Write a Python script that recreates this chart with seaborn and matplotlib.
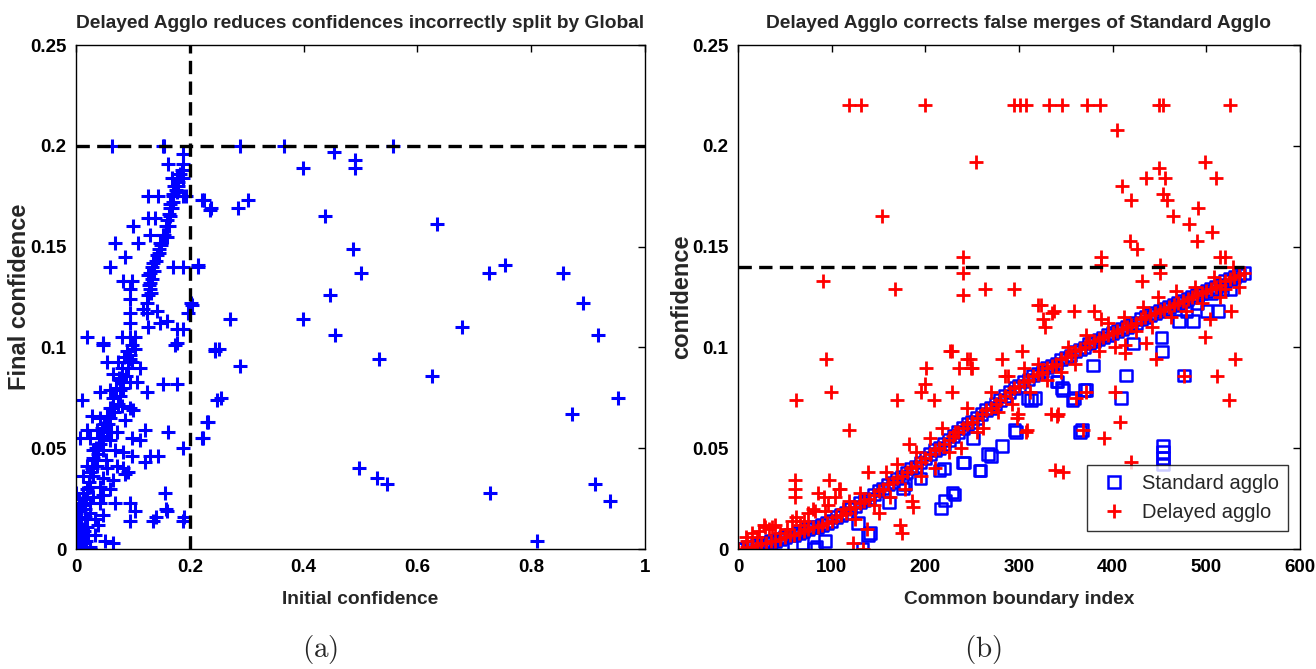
import numpy as np
import pandas as pd
import matplotlib
matplotlib.use("Agg")
import matplotlib.pyplot as plt
import seaborn as sns
from matplotlib.lines import Line2D

# ---------------- Panel (a) data ----------------
init_conf = [
    0.063, 0.153, 0.188, 0.162, 0.188, 0.169, 0.177, 0.188, 0.173, 0.179,
    0.170, 0.178, 0.127, 0.144, 0.171, 0.188, 0.193, 0.165, 0.221, 0.236,
    0.168, 0.165, 0.127, 0.139, 0.100, 0.163, 0.160, 0.153, 0.130, 0.068,
    0.109, 0.148, 0.145, 0.142, 0.086, 0.060, 0.136, 0.134, 0.130, 0.171,
    0.188, 0.214, 0.127, 0.130, 0.130, 0.083, 0.098, 0.095, 0.095, 0.125,
    0.118, 0.125, 0.142, 0.204, 0.197, 0.095, 0.095, 0.160, 0.148, 0.177,
    0.188, 0.127, 0.019, 0.047, 0.081, 0.095, 0.104, 0.177,
    0.133, 0.137, 0.140, 0.145, 0.150, 0.155, 0.158, 0.160, 0.163, 0.166,
    0.170, 0.175, 0.180, 0.183, 0.186, 0.128, 0.131, 0.126,
    0.047, 0.098, 0.104, 0.095, 0.174, 0.244, 0.054, 0.074, 0.095, 0.112,
    0.065, 0.081, 0.077, 0.095, 0.107, 0.153, 0.177, 0.060, 0.042, 0.077,
    0.125, 0.011, 0.248, 0.063, 0.081, 0.095, 0.100, 0.028, 0.042, 0.060,
    0.086, 0.230, 0.019, 0.037, 0.054, 0.072, 0.121, 0.162, 0.007, 0.025,
    0.042, 0.060, 0.098, 0.112, 0.221, 0.188, 0.030, 0.047, 0.068, 0.083,
    0.098, 0.130, 0.144, 0.121, 0.019, 0.037, 0.054, 0.072, 0.083, 0.091,
    0.086, 0.012, 0.030, 0.047, 0.065, 0.025, 0.042, 0.060, 0.000, 0.012,
    0.030, 0.047, 0.156, 0.007, 0.025, 0.042, 0.068, 0.095, 0.104, 0.160,
    0.007, 0.025, 0.000, 0.016, 0.033, 0.047, 0.095, 0.135, 0.188, 0.002,
    0.019, 0.039, 0.002, 0.016, 0.033, 0.051, 0.065, 0.000, 0.011, 0.025,
    0.000, 0.009, 0.025,
    0.010, 0.015, 0.020, 0.025, 0.030, 0.035, 0.040, 0.045, 0.050, 0.055,
    0.060, 0.065, 0.070, 0.075, 0.080, 0.085, 0.090, 0.005, 0.008, 0.012,
    0.018, 0.022, 0.028, 0.033, 0.038, 0.043, 0.048, 0.052, 0.057, 0.062,
    0.067, 0.073, 0.078, 0.083, 0.088, 0.092, 0.098, 0.003, 0.005, 0.010,
    0.014, 0.017, 0.020, 0.005, 0.003, 0.006, 0.013, 0.018, 0.021,
    0.190, 0.158, 0.140,
    0.154, 0.288, 0.365, 0.557, 0.453, 0.490, 0.490, 0.399, 0.438, 0.635,
    0.486, 0.501, 0.725, 0.754, 0.856, 0.891, 0.447, 0.399, 0.679, 0.456,
    0.917, 0.532, 0.626, 0.952, 0.871, 0.498, 0.529, 0.546, 0.913, 0.728,
    0.938, 0.811, 0.225, 0.237, 0.284, 0.302, 0.271, 0.245, 0.251, 0.289,
    0.254, 0.232, 0.223, 0.202, 0.215,
]
final_conf = [
    0.200, 0.200, 0.196, 0.191, 0.191, 0.184, 0.184, 0.184, 0.180, 0.180,
    0.176, 0.177, 0.175, 0.175, 0.175, 0.175, 0.175, 0.171, 0.173, 0.168,
    0.169, 0.165, 0.164, 0.164, 0.160, 0.160, 0.155, 0.156, 0.156, 0.152,
    0.152, 0.152, 0.149, 0.146, 0.145, 0.140, 0.142, 0.140, 0.137, 0.140,
    0.140, 0.140, 0.136, 0.132, 0.129, 0.133, 0.133, 0.129, 0.124, 0.122,
    0.119, 0.117, 0.118, 0.121, 0.117, 0.117, 0.112, 0.113, 0.112, 0.109,
    0.109, 0.110, 0.105, 0.102, 0.105, 0.105, 0.105, 0.102,
    0.134, 0.138, 0.143, 0.147, 0.151, 0.156, 0.160, 0.163, 0.166, 0.169,
    0.172, 0.178, 0.182, 0.186, 0.188, 0.131, 0.127, 0.126,
    0.101, 0.101, 0.099, 0.096, 0.101, 0.098, 0.093, 0.093, 0.094, 0.090,
    0.087, 0.087, 0.084, 0.083, 0.083, 0.082, 0.082, 0.079, 0.078, 0.079,
    0.078, 0.074, 0.074, 0.070, 0.071, 0.070, 0.069, 0.066, 0.065, 0.065,
    0.064, 0.063, 0.059, 0.059, 0.058, 0.058, 0.059, 0.058, 0.055, 0.055,
    0.055, 0.054, 0.055, 0.054, 0.055, 0.050, 0.049, 0.049, 0.049, 0.048,
    0.046, 0.046, 0.046, 0.043, 0.041, 0.041, 0.040, 0.041, 0.040, 0.038,
    0.037, 0.036, 0.036, 0.035, 0.034, 0.031, 0.031, 0.030, 0.028, 0.028,
    0.026, 0.027, 0.028, 0.023, 0.023, 0.023, 0.023, 0.023, 0.019, 0.019,
    0.019, 0.018, 0.016, 0.016, 0.015, 0.017, 0.014, 0.014, 0.014, 0.012,
    0.011, 0.012, 0.008, 0.007, 0.007, 0.004, 0.003, 0.004, 0.003, 0.001,
    0.000, 0.000, 0.000,
    0.010, 0.020, 0.030, 0.038, 0.045, 0.050, 0.052, 0.060, 0.062, 0.066,
    0.070, 0.075, 0.080, 0.085, 0.090, 0.095, 0.098, 0.005, 0.015, 0.022,
    0.025, 0.033, 0.040, 0.044, 0.047, 0.052, 0.056, 0.044, 0.062, 0.058,
    0.068, 0.072, 0.076, 0.080, 0.086, 0.090, 0.093, 0.020, 0.012, 0.006,
    0.009, 0.004, 0.015, 0.025, 0.001, 0.002, 0.001, 0.001, 0.007,
    0.016, 0.020, 0.016,
    0.200, 0.200, 0.200, 0.200, 0.197, 0.193, 0.189, 0.189, 0.165, 0.161,
    0.149, 0.137, 0.137, 0.141, 0.137, 0.122, 0.126, 0.114, 0.110, 0.106,
    0.106, 0.094, 0.086, 0.075, 0.067, 0.040, 0.035, 0.032, 0.032, 0.028,
    0.024, 0.004, 0.173, 0.169, 0.169, 0.173, 0.114, 0.099, 0.099, 0.091,
    0.075, 0.063, 0.055, 0.122, 0.141,
]
threshold_a = 0.2

# ---------------- Panel (b) data ----------------
line_idx = list(range(0, 541, 5))
line_conf = [
    0.000, 0.000, 0.001, 0.001, 0.002, 0.003, 0.003, 0.004, 0.004, 0.005,
    0.006, 0.007, 0.007, 0.008, 0.009, 0.010, 0.011, 0.011, 0.012, 0.013,
    0.014, 0.016, 0.017, 0.018, 0.020, 0.021, 0.023, 0.024, 0.025, 0.027,
    0.029, 0.030, 0.032, 0.033, 0.035, 0.036, 0.038, 0.040, 0.041, 0.043,
    0.045, 0.047, 0.049, 0.050, 0.052, 0.054, 0.056, 0.058, 0.060, 0.062,
    0.063, 0.065, 0.067, 0.069, 0.070, 0.072, 0.074, 0.076, 0.078, 0.080,
    0.081, 0.083, 0.084, 0.086, 0.087, 0.088, 0.090, 0.091, 0.092, 0.094,
    0.095, 0.096, 0.098, 0.099, 0.100, 0.102, 0.103, 0.104, 0.105, 0.106,
    0.107, 0.108, 0.109, 0.110, 0.111, 0.112, 0.114, 0.115, 0.116, 0.117,
    0.118, 0.119, 0.120, 0.121, 0.122, 0.123, 0.124, 0.125, 0.126, 0.127,
    0.128, 0.129, 0.130, 0.131, 0.133, 0.134, 0.135, 0.136, 0.137,
]
std_off_idx = [133, 81, 93, 69, 47, 28, 139, 128, 217, 221, 231, 178, 161, 195,
               215, 220, 241, 251, 259, 282, 270, 295, 309, 317, 341, 346, 359,
               372, 379, 367, 409, 414, 422, 452, 453, 454, 454, 454, 454, 476,
               471, 479, 486, 500, 513, 517, 526, 490, 505, 84, 141, 176, 340,
               313, 297, 240, 258, 267, 229, 357, 370, 365, 347]
std_off_conf = [0.000, 0.000, 0.004, 0.003, 0.000, 0.000, 0.007, 0.013, 0.020,
                0.024, 0.027, 0.032, 0.023, 0.035, 0.039, 0.040, 0.043, 0.055,
                0.039, 0.051, 0.046, 0.059, 0.075, 0.075, 0.083, 0.080, 0.075,
                0.079, 0.091, 0.059, 0.075, 0.086, 0.102, 0.105, 0.098, 0.042,
                0.045, 0.048, 0.051, 0.086, 0.113, 0.118, 0.113, 0.118, 0.118,
                0.129, 0.129, 0.122, 0.127, 0.001, 0.008, 0.030, 0.083, 0.074,
                0.058, 0.043, 0.039, 0.047, 0.028, 0.074, 0.079, 0.058, 0.079]
del_off_idx = [118, 131, 200, 295, 301, 307, 332, 346, 373, 386, 449, 454, 525,
               405, 254, 154, 499, 510, 449, 456, 454, 458, 464, 436, 410, 420,
               482, 491, 490, 506, 418, 426, 431, 388, 388, 451, 451, 515, 520,
               240, 240, 240, 91, 168, 264, 295, 520, 323, 326, 328, 337, 359,
               380, 388, 526, 504, 436, 446, 499, 413, 413, 531, 511, 524, 228,
               236, 248, 250, 282, 285, 303, 94, 99, 62, 119, 170, 201, 200, 195,
               209, 229, 299, 309, 334, 342, 338, 391, 403, 408, 420, 476, 368,
               361, 372, 61, 61, 61, 97, 109, 139, 173, 175, 186, 22, 29, 36, 9,
               123, 82, 93, 133, 187, 226, 245, 249, 320, 335, 341, 347, 298, 308,
               10, 15, 20, 28, 33, 40, 45, 52, 58, 62, 66, 70, 75, 80, 85, 92, 96,
               104, 108, 112, 118, 125, 130, 138, 145, 150, 158, 162, 170, 178,
               183, 190, 195, 205, 210, 218, 225, 232, 238, 245, 255, 262, 270,
               278, 288, 292, 305, 312, 320, 330, 345, 352, 360, 372, 385, 395,
               402, 412, 425, 432, 442, 448, 462, 468, 478, 488, 495, 508, 515,
               528, 535]
del_off_conf = [0.220, 0.220, 0.220, 0.220, 0.220, 0.220, 0.220, 0.220, 0.220,
                0.220, 0.220, 0.220, 0.220, 0.208, 0.192, 0.165, 0.192, 0.184,
                0.189, 0.184, 0.176, 0.173, 0.165, 0.184, 0.180, 0.173, 0.161,
                0.169, 0.153, 0.157, 0.153, 0.149, 0.133, 0.145, 0.141, 0.141,
                0.137, 0.145, 0.145, 0.145, 0.137, 0.126, 0.133, 0.129, 0.129,
                0.129, 0.129, 0.121, 0.114, 0.110, 0.118, 0.118, 0.118, 0.114,
                0.118, 0.114, 0.102, 0.094, 0.105, 0.101, 0.097, 0.094, 0.086,
                0.074, 0.098, 0.090, 0.094, 0.090, 0.094, 0.086, 0.098, 0.094,
                0.078, 0.074, 0.059, 0.074, 0.090, 0.082, 0.078, 0.074, 0.078,
                0.067, 0.059, 0.067, 0.067, 0.039, 0.055, 0.078, 0.063, 0.043,
                0.086, 0.059, 0.075, 0.078, 0.034, 0.030, 0.026, 0.034, 0.030,
                0.038, 0.012, 0.008, 0.024, 0.009, 0.011, 0.011, 0.006, 0.003,
                0.019, 0.019, 0.000, 0.021, 0.098, 0.094, 0.090, 0.121, 0.117,
                0.066, 0.038, 0.065, 0.058,
                0.004, 0.008, 0.006, 0.012, 0.010, 0.012, 0.008, 0.010, 0.014,
                0.016, 0.012, 0.014, 0.018, 0.020, 0.028, 0.026, 0.022, 0.026,
                0.030, 0.020, 0.024, 0.015, 0.028, 0.010, 0.022, 0.018, 0.038,
                0.026, 0.042, 0.030, 0.052, 0.048, 0.036, 0.055, 0.040, 0.060,
                0.048, 0.058, 0.050, 0.070, 0.058, 0.060, 0.078, 0.068, 0.086,
                0.072, 0.090, 0.078, 0.092, 0.084, 0.088, 0.100, 0.092, 0.106,
                0.098, 0.112, 0.100, 0.115, 0.108, 0.120, 0.110, 0.125, 0.115,
                0.128, 0.118, 0.130, 0.122, 0.135, 0.125, 0.140, 0.130]
threshold_b = 0.14

# ---------------- build frames ----------------
df_a = pd.DataFrame({"Initial confidence": init_conf, "Final confidence": final_conf})
df_std = pd.DataFrame({"idx": line_idx + std_off_idx, "conf": line_conf + std_off_conf})
df_del = pd.DataFrame({"idx": line_idx + del_off_idx, "conf": line_conf + del_off_conf})

sns.set_style("white")
plt.rcParams["font.family"] = ["Liberation Sans", "DejaVu Sans"]
plt.rcParams["mathtext.fontset"] = "cm"

W, H = 1316, 669
fig = plt.figure(figsize=(W / 100, H / 100), dpi=100)
ax1 = fig.add_axes([76 / W, 1 - 549 / H, (645 - 76) / W, (549 - 45) / H])
ax2 = fig.add_axes([738 / W, 1 - 549 / H, (1300 - 738) / W, (549 - 45) / H])

tick_fs = 13.5
xlab_fs = 13.8
ylab_fs = 17
title_fs = 13.8
dash = (0, (4, 2.2))

# Panel (a)
sns.scatterplot(data=df_a, x="Initial confidence", y="Final confidence", marker="+",
                s=115, color="#0000ff", linewidth=2.2, ax=ax1)
ax1.axhline(threshold_a, color="black", lw=2.4, ls=dash)
ax1.axvline(threshold_a, color="black", lw=2.4, ls=dash)
ax1.set_xlim(0, 1)
ax1.set_ylim(0, 0.25)
ax1.set_xticks([0, 0.2, 0.4, 0.6, 0.8, 1])
ax1.set_xticklabels(["0", "0.2", "0.4", "0.6", "0.8", "1"])
ax1.set_yticks([0, 0.05, 0.1, 0.15, 0.2, 0.25])
ax1.set_yticklabels(["0", "0.05", "0.1", "0.15", "0.2", "0.25"])
ax1.set_xlabel("Initial confidence", fontsize=xlab_fs, fontweight="bold", labelpad=11)
ax1.set_ylabel("Final confidence", fontsize=ylab_fs, fontweight="bold", labelpad=-1)
ax1.set_title("Delayed Agglo reduces confidences incorrectly split by Global",
              fontsize=title_fs, fontweight="bold", pad=12)

# Panel (b)
sns.scatterplot(data=df_std, x="idx", y="conf", marker="s", s=70,
                facecolors="none", edgecolor="#0000ff", linewidth=1.8, ax=ax2)
sns.scatterplot(data=df_del, x="idx", y="conf", marker="+", s=105,
                color="#ff0000", linewidth=2.0, ax=ax2)
ax2.hlines(threshold_b, xmin=0, xmax=max(line_idx), color="black", lw=2.4, ls=dash)
ax2.set_xlim(0, 600)
ax2.set_ylim(0, 0.25)
ax2.set_xticks([0, 100, 200, 300, 400, 500, 600])
ax2.set_yticks([0, 0.05, 0.1, 0.15, 0.2, 0.25])
ax2.set_yticklabels(["0", "0.05", "0.1", "0.15", "0.2", "0.25"])
ax2.set_xlabel("Common boundary index", fontsize=xlab_fs, fontweight="bold", labelpad=11)
ax2.set_ylabel("confidence", fontsize=ylab_fs, fontweight="bold", labelpad=-1)
ax2.set_title("Delayed Agglo corrects false merges of Standard Agglo",
              fontsize=title_fs, fontweight="bold", pad=12)

handles = [
    Line2D([], [], marker="s", ls="none", markerfacecolor="none",
           markeredgecolor="#0000ff", markersize=9, markeredgewidth=1.8),
    Line2D([], [], marker="+", ls="none", color="#ff0000", markersize=10,
           markeredgewidth=2.0),
]
leg = ax2.legend(handles, ["Standard agglo", "Delayed agglo"], loc="lower right",
                 fontsize=14.5, frameon=True, fancybox=False, edgecolor="black",
                 borderpad=0.45, handletextpad=0.5, labelspacing=0.5,
                 handlelength=1.8, bbox_to_anchor=(0.997, 0.015))
leg.get_frame().set_linewidth(1.0)

for ax in (ax1, ax2):
    for sp in ax.spines.values():
        sp.set_visible(True)
        sp.set_color("black")
        sp.set_linewidth(1.0)
    ax.tick_params(direction="in", length=5, width=1, top=True, right=True,
                   labelsize=tick_fs, colors="black")
    ax.tick_params(axis="x", pad=7)
    ax.tick_params(axis="y", pad=7)
    for lab in ax.get_xticklabels() + ax.get_yticklabels():
        lab.set_fontweight("bold")

fig.text(320 / W, 1 - 650 / H, r"$\mathrm{(a)}$", fontsize=21, ha="center", va="center")
fig.text(983 / W, 1 - 650 / H, r"$\mathrm{(b)}$", fontsize=21, ha="center", va="center")

fig.savefig("out.png", dpi=100)
